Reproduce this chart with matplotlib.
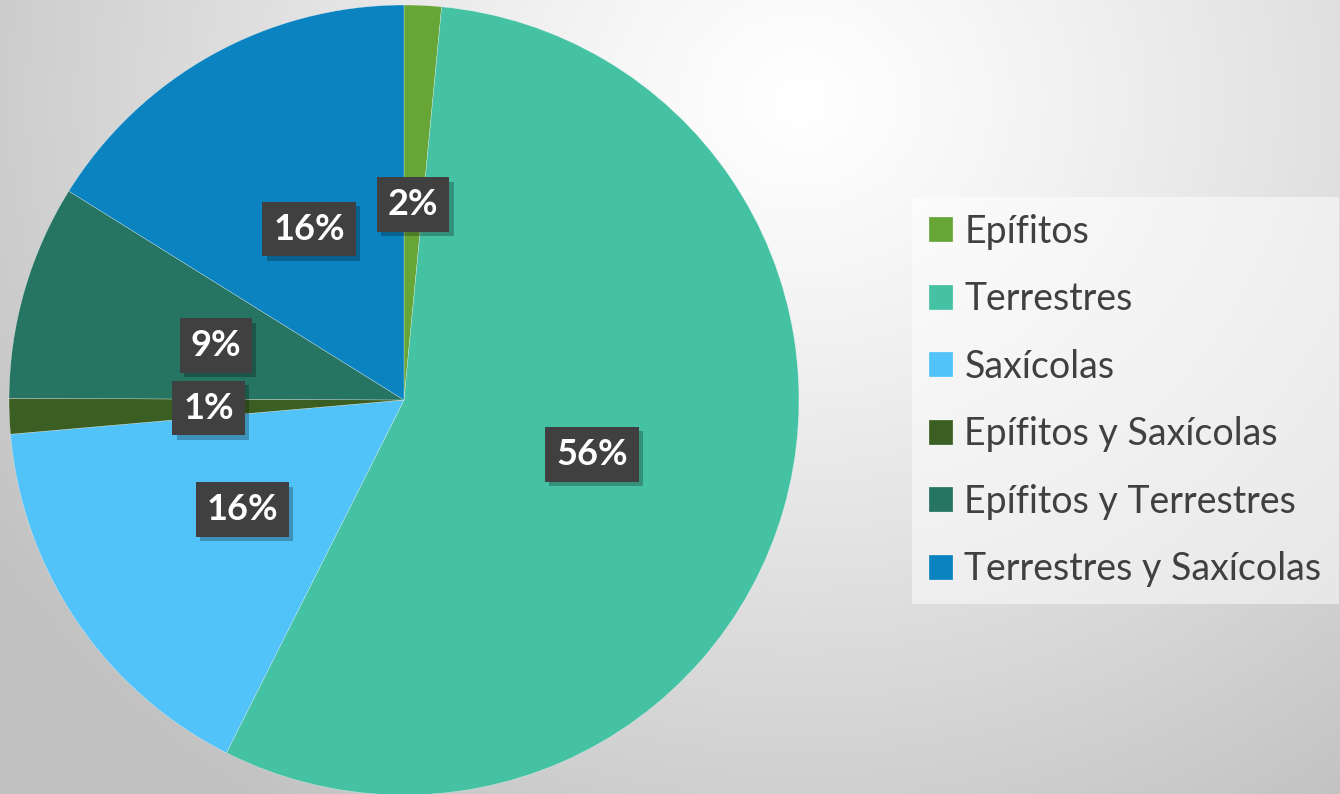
import matplotlib
matplotlib.use('Agg')
import matplotlib.pyplot as plt
import matplotlib.patheffects as pe
import numpy as np

# data (percent shares)
categories = ['Epífitos', 'Terrestres', 'Saxícolas',
              'Epífitos y Saxícolas', 'Epífitos y Terrestres', 'Terrestres y Saxícolas']
shares = [1.52, 55.9, 16.2, 1.45, 8.8, 16.13]
colors = ['#67a536', '#45c1a4', '#51c3f8', '#3b5f22', '#257562', '#0b83c0']

plt.rcParams['font.family'] = ['Lato', 'DejaVu Sans']
plt.rcParams['hatch.color'] = '#505050'
plt.rcParams['hatch.linewidth'] = 1.5

W, H = 1340, 794
fig = plt.figure(figsize=(W / 100, H / 100), dpi=100)

# radial grey background
bg = fig.add_axes([0, 0, 1, 1])
yy, xx = np.mgrid[0:H, 0:W]
d = np.sqrt(((xx - 800) / 1.0) ** 2 + ((yy - 100) / 0.9) ** 2)
v = 1.0 - np.clip(d / 950, 0, 1) ** 1.2 * 0.24
bg.imshow(np.dstack([v, v, v]), extent=[0, W, H, 0], aspect='auto')
bg.axis('off')

ax = fig.add_axes([9 / W, -1 / H, 790 / W, 790 / H])
wedges, texts, autotexts = ax.pie(
    shares, colors=colors, startangle=90, counterclock=False,
    autopct='%1.0f%%', pctdistance=0.495,
    wedgeprops=dict(edgecolor='#ffffff99', linewidth=0.3),
    textprops=dict(color='white', fontsize=26, fontweight='bold'))
ax.set_xlim(-1, 1)
ax.set_ylim(-1, 1)
ax.set_aspect('equal')

for t in autotexts:
    t.set_bbox(dict(boxstyle='square,pad=0.3', facecolor='#404040',
                    edgecolor='none', hatch='..', linewidth=0))
    patch = t.get_bbox_patch()
    patch.set_path_effects([pe.withSimplePatchShadow(offset=(3, -3), shadow_rgbFace='black', alpha=0.25),
                            pe.Normal()])

leg = fig.legend(wedges, categories, loc='upper left',
                 bbox_to_anchor=(912 / W, 1 - 197 / H),
                 frameon=True, fancybox=False, fontsize=27,
                 handlelength=0.65, handleheight=0.65, handletextpad=0.3,
                 labelspacing=0.84, borderpad=0.45, borderaxespad=0)
leg.get_frame().set_facecolor('white')
leg.get_frame().set_alpha(0.5)
leg.get_frame().set_edgecolor('none')
for txt in leg.get_texts():
    txt.set_color('#404040')

fig.savefig('out.png', dpi=100)
